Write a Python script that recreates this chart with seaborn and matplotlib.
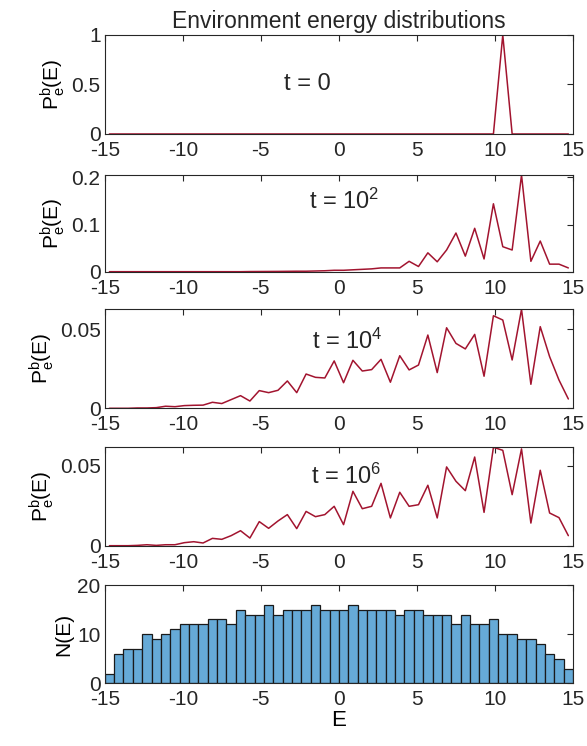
"""Environment energy distributions: four snapshots plus the level histogram."""

import matplotlib
matplotlib.use("Agg")
import matplotlib.pyplot as plt
import numpy as np
import seaborn as sns

# bin centres of the energy grid
energy = [-14.7, -14.1, -13.5, -12.9, -12.3, -11.7, -11.1, -10.5, -9.9, -9.3,
          -8.7, -8.1, -7.5, -6.9, -6.3, -5.7, -5.1, -4.5, -3.9, -3.3,
          -2.7, -2.1, -1.5, -0.9, -0.3, 0.3, 0.9, 1.5, 2.1, 2.7,
          3.3, 3.9, 4.5, 5.1, 5.7, 6.3, 6.9, 7.5, 8.1, 8.7,
          9.3, 9.9, 10.5, 11.1, 11.7, 12.3, 12.9, 13.5, 14.1, 14.7]

p_t0 = [0, 0, 0, 0, 0, 0, 0, 0, 0, 0,
        0, 0, 0, 0, 0, 0, 0, 0, 0, 0,
        0, 0, 0, 0, 0, 0, 0, 0, 0, 0,
        0, 0, 0, 0, 0, 0, 0, 0, 0, 0,
        0, 0, 1, 0, 0, 0, 0, 0, 0, 0]

p_t2 = [0, 0, 0, 0, 0, 0, 0, 0, 0, 0,
        0, 0, 0, 0, 0, 0.0003, 0.0004, 0.0005, 0.0006, 0.0008,
        0.001, 0.001, 0.0015, 0.002, 0.003, 0.003, 0.004, 0.005, 0.006, 0.008,
        0.008, 0.008, 0.022, 0.011, 0.040, 0.021, 0.046, 0.082, 0.033, 0.092,
        0.027, 0.144, 0.053, 0.046, 0.205, 0.022, 0.065, 0.016, 0.016, 0.008]

p_t4 = [0, 0, 0, 0.0002, 0.0002, 0.0004, 0.0013, 0.001, 0.0017, 0.0019,
        0.002, 0.0038, 0.003, 0.0055, 0.008, 0.0046, 0.0112, 0.0099, 0.0114, 0.0173,
        0.0099, 0.0217, 0.0196, 0.0192, 0.030, 0.0162, 0.0304, 0.0236, 0.0245, 0.031,
        0.0165, 0.0333, 0.0243, 0.0274, 0.0464, 0.0226, 0.051, 0.0411, 0.0376, 0.0468,
        0.0203, 0.0586, 0.0559, 0.0306, 0.0627, 0.0152, 0.0517, 0.0327, 0.0179, 0.0059]

p_t6 = [0, 0, 0, 0.0002, 0.0006, 0.0002, 0.0006, 0.0006, 0.0019, 0.0025,
        0.0017, 0.0046, 0.004, 0.0063, 0.0094, 0.0048, 0.0151, 0.0109, 0.0155, 0.0195,
        0.0107, 0.0215, 0.0182, 0.0195, 0.0247, 0.0132, 0.0341, 0.0232, 0.0247, 0.0391,
        0.0174, 0.0335, 0.0247, 0.0257, 0.0379, 0.0174, 0.0494, 0.0404, 0.0345, 0.0556,
        0.0209, 0.0617, 0.0598, 0.032, 0.0607, 0.0142, 0.0473, 0.0205, 0.0176, 0.0063]

# number of levels per energy bin
counts = [2, 6, 7, 7, 10, 9, 10, 11, 12, 12,
          12, 13, 13, 12, 15, 14, 14, 16, 14, 15,
          15, 15, 16, 15, 15, 15, 16, 15, 15, 15,
          15, 14, 15, 15, 14, 14, 14, 12, 14, 12,
          12, 13, 10, 10, 9, 9, 8, 6, 5, 3]

time_labels = ["t = 0", "t = 10$^{2}$", "t = 10$^{4}$", "t = 10$^{6}$"]
label_pos = [(-3.5, 0.5), (-1.9, 0.150), (-1.75, 0.0425), (-1.8, 0.0435)]
y_ticks = [[0, 0.5, 1], [0, 0.1, 0.2], [0, 0.05], [0, 0.05]]
y_ticklabels = [["0", "0.5", "1"], ["0", "0.1", "0.2"], ["0", "0.05"], ["0", "0.05"]]
x_ticks = [-15, -10, -5, 0, 5, 10, 15]

sns.set_style("white")
plt.rcParams["font.family"] = ["Liberation Sans", "DejaVu Sans"]
plt.rcParams["mathtext.fontset"] = "custom"
plt.rcParams["mathtext.rm"] = "Liberation Sans"
plt.rcParams["mathtext.it"] = "Liberation Sans:italic"
plt.rcParams["mathtext.default"] = "regular"

axis_col = "#262626"
line_col = "#A2142F"
bar_col = "#66AAD7"
fs = 15

fig = plt.figure(figsize=(5.87, 7.46), dpi=100)
left, width = 0.1784, 0.7978
bottoms = [0.8204, 0.6358, 0.4527, 0.2685, 0.0840]
heights = [0.1327, 0.1296, 0.1327, 0.1319, 0.1318]
axes = [fig.add_axes([left, b, width, h]) for b, h in zip(bottoms, heights)]


def style_axis(ax):
    """MATLAB-like box with inward ticks on all four sides."""
    ax.set_xlim(-15, 15)
    ax.set_xticks(x_ticks)
    ax.set_xticklabels([str(v) for v in x_ticks])
    ax.tick_params(direction="in", top=True, right=True, length=4, width=0.8,
                   colors=axis_col, labelsize=fs, pad=3)
    ax.tick_params(axis="x", pad=5)
    for s in ax.spines.values():
        s.set_color(axis_col)
        s.set_linewidth(0.8)
        s.set_visible(True)


series = [p_t0, p_t2, p_t4, p_t6]
for i, (ax, p) in enumerate(zip(axes[:4], series)):
    sns.lineplot(x=energy, y=p, ax=ax, color=line_col, linewidth=1.1)
    ax.set_ylim(0, max(p))
    ax.set_yticks(y_ticks[i])
    ax.set_yticklabels(y_ticklabels[i])
    ax.set_ylabel("P$_{e}^{b}$(E)", fontsize=fs, color="black", labelpad=3)
    tx, ty = label_pos[i]
    ax.text(tx, ty, time_labels[i], fontsize=17, ha="left", va="center")
    style_axis(ax)

ax = axes[4]
sns.histplot(x=energy, weights=counts, bins=50, binrange=(-15, 15), ax=ax,
             color=bar_col, alpha=1, edgecolor="#1a1a1a", linewidth=0.9)
ax.set_ylim(0, 20)
ax.set_yticks([0, 10, 20])
ax.set_yticklabels(["0", "10", "20"])
ax.set_ylabel("N(E)", fontsize=fs, color="black", labelpad=3)
ax.set_xlabel("E", fontsize=16, color="black", labelpad=0.5)
style_axis(ax)

axes[0].set_title("Environment energy distributions", fontsize=16.5, pad=5)

fig.savefig("out.png", dpi=100)
